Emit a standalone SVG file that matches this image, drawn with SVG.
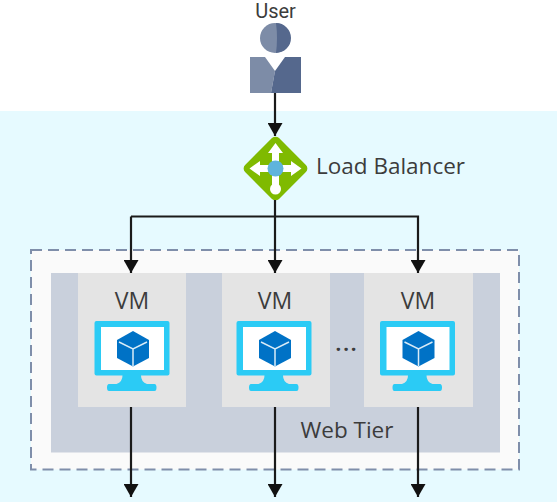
<svg xmlns="http://www.w3.org/2000/svg" width="557" height="502" viewBox="0 0 557 502">
<style>
.t{font-family:"Open Sans","Noto Sans",sans-serif;fill:#3c3c3c}
.c{fill:none;stroke:#1a1a1a;stroke-width:2.2}
.vm{fill:#e4e4e4}
</style>
<defs>
<marker id="a" markerUnits="userSpaceOnUse" markerWidth="15" markerHeight="15" refX="13" refY="7.500" orient="auto"><path d="M0 0L13 7.500L0 15Z" fill="#111"/></marker>
<g id="mon">
<path d="M96.500 321H167.500Q169.500 321 169.500 323V373.500Q169.500 375.500 167.500 375.500H141Q141 382 147 384H154.500Q156.500 384 156.500 387.500Q156.500 391 154.500 391H109Q107 391 107 387.500Q107 384 109 384H116.500Q122.500 382 122.500 375.500H96.500Q94.500 375.500 94.500 373.500V323Q94.500 321 96.500 321Z" fill="#2bcbf5"/>
<rect x="101" y="327" width="63" height="43" fill="#fff"/>
<path d="M133 331L149 340V358L133 366.500L117 358V340Z" fill="#0072c6"/>
<path d="M119 342L133 349L147 342M133 349V366" fill="none" stroke="#d8ebf7" stroke-width="1.500"/>
</g>
</defs>
<rect width="557" height="502" fill="#fff"/>
<rect y="111" width="557" height="391" fill="#e6faff"/>
<g id="web-tier">
<rect x="31" y="250" width="488" height="219.500" fill="#fafafa" stroke="#7f8eaa" stroke-width="2" stroke-dasharray="11 6"/>
<rect x="51" y="273" width="449" height="179.500" fill="#c9d0dc"/>
<text class="t" x="347" y="438" font-size="22.500" text-anchor="middle">Web Tier</text>
<text class="t" x="347" y="351" font-size="20" text-anchor="middle" font-weight="700" letter-spacing="2">...</text>
</g>
<g id="user">
<text x="275.500" y="18" font-size="20" text-anchor="middle" font-family="Roboto,sans-serif" fill="#3c3c3c">User</text>
<circle cx="275" cy="38" r="15" fill="#7d8ca7"/>
<path d="M276 23A15 15 0 0 1 276 53Q278 38 276 23Z" fill="#55688d"/>
<path d="M250 57H265L275 71L271 93H250Z" fill="#7d8ca7"/>
<path d="M275 71L285 57H301V93H271Z" fill="#55688d"/>
</g>
<g id="load-balancer">
<rect x="251.500" y="144.500" width="48" height="48" rx="5" transform="rotate(45 275.500 168.500)" fill="#7fba00"/>
<path d="M275.500 143L283 153H279V164H272V153H268Z" fill="#fff"/>
<path d="M249.500 168.500L260 161V165H271V172H260V176Z" fill="#fff"/>
<path d="M301.500 168.500L291 161V165H280V172H291V176Z" fill="#fff"/>
<rect x="272" y="173" width="7" height="15" fill="#fff"/>
<circle cx="275.500" cy="189" r="5.500" fill="#fff"/>
<circle cx="275.500" cy="168.500" r="8" fill="#5fb4dc"/>
<text class="t" x="316" y="174" font-size="22.500">Load Balancer</text>
</g>
<g id="vm1">
<rect class="vm" x="78" y="273" width="108" height="134"/>
<text class="t" x="132" y="309" font-size="23" text-anchor="middle">VM</text>
<use href="#mon"/>
</g>
<g id="vm2">
<rect class="vm" x="222" y="273" width="108" height="134"/>
<text class="t" x="275" y="309" font-size="23" text-anchor="middle">VM</text>
<use href="#mon" x="142"/>
</g>
<g id="vm3">
<rect class="vm" x="364" y="273" width="109" height="134"/>
<text class="t" x="418" y="309" font-size="23" text-anchor="middle">VM</text>
<use href="#mon" x="285.500"/>
</g>
<g id="connectors">
<path class="c" d="M275 93V136" marker-end="url(#a)"/>
<path class="c" d="M275 200V273" marker-end="url(#a)"/>
<path class="c" d="M131 216.500H418V273" marker-end="url(#a)"/>
<path class="c" d="M131 216.500V273" marker-end="url(#a)"/>
<path class="c" d="M131 407V497" marker-end="url(#a)"/>
<path class="c" d="M275 407V497" marker-end="url(#a)"/>
<path class="c" d="M418 407V497" marker-end="url(#a)"/>
</g>
</svg>
